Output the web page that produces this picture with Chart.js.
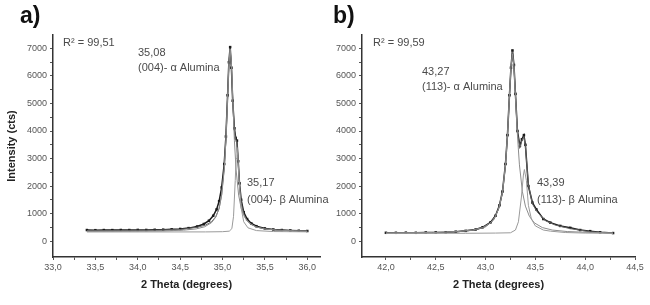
<!DOCTYPE html>
<html>
<head>
<meta charset="utf-8">
<script src="https://cdn.jsdelivr.net/npm/chart.js@4.4.1/dist/chart.umd.min.js"></script>
<style>
    body { margin: 0; background: #fff; }
    #wrap { position: relative; width: 650px; height: 305px; overflow: hidden; }
    canvas { position: absolute; top: 0; }
</style>
</head>
<body>
<div id="wrap">
    <canvas id="chartA" width="345" height="305" style="left:0"></canvas>
    <canvas id="chartB" width="325" height="305" style="left:325px"></canvas>
</div>
<script>
// ---- panel a) (004) reflection ----
const thetaMeasA = [33.40, 33.50, 33.60, 33.70, 33.80, 33.90, 34.00, 34.10, 34.20, 34.30, 34.40, 34.50, 34.60, 34.70, 34.78, 34.84, 34.89, 34.93, 34.96, 34.99, 35.02, 35.04, 35.06, 35.075, 35.09, 35.105, 35.12, 35.14, 35.155, 35.17, 35.185, 35.20, 35.22, 35.25, 35.29, 35.34, 35.40, 35.50, 35.60, 35.70, 35.80, 35.90, 36.00];
const intMeasA = [400, 395, 400, 398, 402, 400, 405, 403, 410, 415, 425, 440, 470, 530, 620, 740, 920, 1150, 1450, 1950, 2800, 3800, 5300, 6500, 7050, 6300, 5100, 4100, 3750, 3650, 2900, 2100, 1500, 1050, 800, 640, 540, 460, 420, 400, 385, 375, 365];

const thetaFitA = [33.40, 33.80, 34.20, 34.50, 34.70, 34.80, 34.87, 34.92, 34.96, 34.99, 35.02, 35.04, 35.06, 35.075, 35.09, 35.105, 35.12, 35.14, 35.155, 35.17, 35.185, 35.20, 35.22, 35.25, 35.29, 35.34, 35.40, 35.50, 35.65, 35.85, 36.00];
const intFitA = [380, 385, 395, 420, 500, 580, 700, 880, 1180, 1700, 2650, 3700, 5250, 6450, 6950, 6350, 5150, 4000, 3700, 3600, 2850, 2000, 1400, 980, 740, 600, 510, 440, 400, 375, 360];

const thetaAlphaA = [33.40, 33.89, 34.29, 34.54, 34.69, 34.79, 34.87, 34.92, 34.96, 34.99, 35.02, 35.04, 35.06, 35.075, 35.09, 35.105, 35.12, 35.14, 35.16, 35.19, 35.22, 35.26, 35.31, 35.39, 35.49, 35.64, 35.89, 36.00];
const intAlphaA = [346, 352, 366, 395, 442, 520, 667, 869, 1197, 1670, 2587, 3665, 5230, 6440, 6990, 6440, 5230, 3665, 2587, 1670, 1197, 869, 667, 520, 442, 395, 366, 360];

const thetaBetaA = [33.40, 34.80, 35.00, 35.08, 35.11, 35.13, 35.15, 35.16, 35.17, 35.18, 35.20, 35.22, 35.25, 35.30, 35.40, 35.60, 36.00];
const intBetaA = [330, 332, 340, 360, 450, 900, 2200, 3000, 3400, 3100, 2000, 1200, 700, 480, 380, 345, 335];

// ---- panel b) (113) reflection ----
const thetaMeasB = [42.00, 42.10, 42.20, 42.30, 42.40, 42.50, 42.60, 42.70, 42.80, 42.90, 42.97, 43.05, 43.10, 43.14, 43.17, 43.20, 43.22, 43.24, 43.255, 43.27, 43.285, 43.30, 43.32, 43.345, 43.365, 43.385, 43.40, 43.43, 43.47, 43.51, 43.58, 43.65, 43.75, 43.85, 43.95, 44.05, 44.15, 44.28];
const intMeasB = [300, 300, 305, 300, 310, 315, 320, 340, 370, 420, 500, 680, 920, 1300, 1800, 2800, 3850, 5300, 6300, 6930, 6400, 5350, 4000, 3460, 3700, 3850, 3500, 2000, 1400, 1150, 800, 670, 550, 480, 400, 360, 320, 290];

const thetaFitB = [42.00, 42.40, 42.70, 42.90, 43.00, 43.08, 43.13, 43.17, 43.20, 43.22, 43.24, 43.255, 43.27, 43.285, 43.30, 43.32, 43.345, 43.365, 43.385, 43.40, 43.43, 43.47, 43.52, 43.60, 43.70, 43.85, 44.05, 44.28];
const intFitB = [290, 300, 330, 400, 520, 760, 1150, 1750, 2750, 3800, 5250, 6250, 6880, 6350, 5300, 3950, 3400, 3650, 3800, 3450, 2050, 1350, 1050, 740, 580, 450, 340, 285];

const thetaAlphaB = [42.00, 42.47, 42.72, 42.87, 42.97, 43.05, 43.10, 43.14, 43.17, 43.20, 43.22, 43.24, 43.255, 43.27, 43.285, 43.30, 43.32, 43.34, 43.37, 43.40, 43.44, 43.49, 43.57, 43.67, 43.82, 44.07, 44.28];
const intAlphaB = [295, 310, 345, 400, 490, 660, 900, 1270, 1790, 2770, 3850, 5300, 6350, 6800, 6350, 5300, 3850, 2770, 1790, 1270, 900, 660, 490, 400, 345, 310, 295];

const thetaBetaB = [42.00, 42.80, 43.10, 43.25, 43.30, 43.33, 43.36, 43.38, 43.39, 43.41, 43.43, 43.46, 43.50, 43.58, 43.65, 43.80, 44.00, 44.28];
const intBetaB = [280, 282, 290, 300, 400, 700, 1600, 2400, 2600, 2200, 1300, 800, 550, 400, 360, 310, 290, 280];

// ---- axes ----
const xTicksA = [33.0, 33.25, 33.5, 33.75, 34.0, 34.25, 34.5, 34.75, 35.0, 35.25, 35.5, 35.75, 36.0];
const xTicksB = [42.0, 42.25, 42.5, 42.75, 43.0, 43.25, 43.5, 43.75, 44.0, 44.25, 44.5];
const yTicks = [0, 500, 1000, 1500, 2000, 2500, 3000, 3500, 4000, 4500, 5000, 5500, 6000, 6500, 7000];

const tickFont = { family: 'Liberation Sans, Arial, sans-serif', size: 9 };
const titleFont = { family: 'Liberation Sans, Arial, sans-serif', size: 11, weight: 'bold' };
const noteFont = '11px "Liberation Sans", Arial, sans-serif';
const panelFont = 'bold 23px "Liberation Sans", Arial, sans-serif';

function toPoints(xs, ys) {
    return xs.map((x, i) => ({ x: x, y: ys[i] }));
}

function xLabel(value) {
    // only half-degree ticks carry a label, decimal comma as in the figure
    if (Math.abs(value * 2 - Math.round(value * 2)) > 1e-6) return '';
    return value.toFixed(1).replace('.', ',');
}

function yLabel(value) {
    return value % 1000 === 0 ? String(value) : '';
}

// free text in the plot (peak positions, R², panel letter)
const notesPlugin = {
    id: 'notes',
    afterDraw(chart, args, opts) {
        const ctx = chart.ctx;
        ctx.save();
        ctx.textBaseline = 'middle';
        opts.items.forEach(t => {
            ctx.font = t.font || noteFont;
            ctx.fillStyle = t.color || '#4a4a4a';
            ctx.fillText(t.text, t.x, t.y);
        });
        ctx.restore();
    }
};

function makeChart(canvasId, series, xMin, xMax, xTicks, yWidth, padRight, showYTitle, notes) {
    const ctx = document.getElementById(canvasId).getContext('2d');
    return new Chart(ctx, {
        type: 'scatter',
        data: {
            datasets: [
                { data: toPoints(series.betaX, series.betaY), borderColor: '#9a9a9a', borderWidth: 1, pointRadius: 0, showLine: true },
                { data: toPoints(series.alphaX, series.alphaY), borderColor: '#8c8c8c', borderWidth: 1, pointRadius: 0, showLine: true },
                { data: toPoints(series.fitX, series.fitY), borderColor: '#666', borderWidth: 1, pointRadius: 0, showLine: true },
                {
                    data: toPoints(series.measX, series.measY),
                    borderColor: '#1a1a1a',
                    backgroundColor: '#1a1a1a',
                    borderWidth: 1.5,
                    pointRadius: 0.7,
                    pointStyle: 'rect',
                    showLine: true
                }
            ]
        },
        options: {
            responsive: false,
            animation: false,
            layout: { padding: { left: 0, top: 35, right: padRight, bottom: 0 } },
            plugins: {
                legend: { display: false },
                tooltip: { enabled: false },
                notes: { items: notes }
            },
            scales: {
                x: {
                    type: 'linear',
                    min: xMin,
                    max: xMax,
                    afterBuildTicks: scale => { scale.ticks = xTicks.map(v => ({ value: v })); },
                    afterFit: scale => { scale.height = 48; },
                    grid: { drawOnChartArea: false, drawTicks: true, tickLength: 3, color: '#555' },
                    border: { display: true, color: '#333', width: 1.5 },
                    ticks: { autoSkip: false, maxRotation: 0, padding: 2, color: '#555', font: tickFont, callback: xLabel },
                    title: { display: true, text: '2 Theta (degrees)', color: '#222', font: titleFont, padding: { top: 0, bottom: 13 } }
                },
                y: {
                    min: -580,
                    max: 7490,
                    afterBuildTicks: scale => { scale.ticks = yTicks.map(v => ({ value: v })); },
                    afterFit: scale => { scale.width = yWidth; },
                    grid: { drawOnChartArea: false, drawTicks: true, tickLength: 3, color: '#555' },
                    border: { display: true, color: '#333', width: 1.5 },
                    ticks: { autoSkip: false, padding: 3, color: '#555', font: tickFont, callback: yLabel },
                    title: { display: showYTitle, text: 'Intensity (cts)', color: '#222', font: { family: titleFont.family, size: 11, weight: 'bold' }, padding: { top: 5, bottom: 0 } }
                }
            }
        },
        plugins: [notesPlugin]
    });
}

makeChart('chartA', {
    measX: thetaMeasA, measY: intMeasA,
    fitX: thetaFitA, fitY: intFitA,
    alphaX: thetaAlphaA, alphaY: intAlphaA,
    betaX: thetaBetaA, betaY: intBetaA
}, 33.0, 36.15, xTicksA, 53, 25, true, [
    { text: 'a)', x: 20, y: 17, font: panelFont, color: '#111' },
    { text: 'R² = 99,51', x: 63, y: 43 },
    { text: '35,08', x: 138, y: 53 },
    { text: '(004)- α Alumina', x: 138, y: 68 },
    { text: '35,17', x: 247, y: 183 },
    { text: '(004)- β Alumina', x: 247, y: 200 }
]);

makeChart('chartB', {
    measX: thetaMeasB, measY: intMeasB,
    fitX: thetaFitB, fitY: intFitB,
    alphaX: thetaAlphaB, alphaY: intAlphaB,
    betaX: thetaBetaB, betaY: intBetaB
}, 41.76, 44.5, xTicksB, 37, 15, false, [
    { text: 'b)', x: 8, y: 17, font: panelFont, color: '#111' },
    { text: 'R² = 99,59', x: 48, y: 43 },
    { text: '43,27', x: 97, y: 72 },
    { text: '(113)- α Alumina', x: 97, y: 87 },
    { text: '43,39', x: 212, y: 183 },
    { text: '(113)- β Alumina', x: 212, y: 200 }
]);
</script>
</body>
</html>
